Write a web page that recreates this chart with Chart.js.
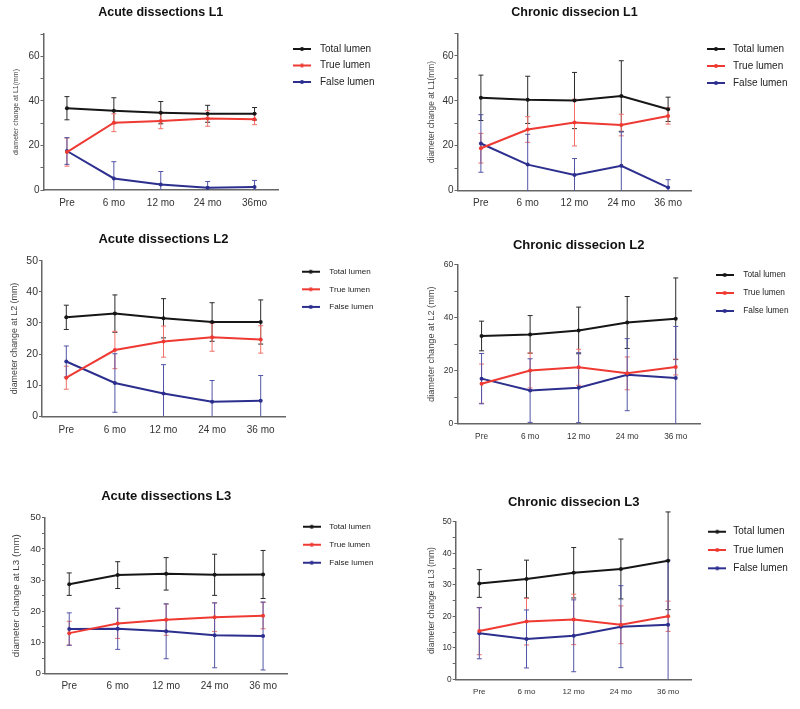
<!DOCTYPE html>
<html><head><meta charset="utf-8">
<script src="https://cdn.jsdelivr.net/npm/chart.js@4/dist/chart.umd.min.js"></script>
<style>
html,body{margin:0;padding:0;background:#fff;}
#wrap{position:relative;width:800px;height:709px;overflow:hidden;background:#fff;}
canvas{position:absolute;}
</style></head><body><div id="wrap"></div>
<script>
// ---------- categories ----------
const catsAcuteL1 = ['Pre', '6 mo', '12 mo', '24 mo', '36mo'];
const catsDefault = ['Pre', '6 mo', '12 mo', '24 mo', '36 mo'];
const seriesNames = ['Total lumen', 'True lumen', 'False lumen'];

// ---------- Acute L1 ----------
const acuteL1Total = [36.7, 35.6, 34.7, 34.2, 34.2];
const acuteL1TotalErr = [5.2, 5.8, 5.0, 3.8, 2.8];
const acuteL1True = [17.0, 30.2, 31.0, 32.1, 31.8];
const acuteL1TrueErr = [6.3, 4.0, 3.5, 3.5, 2.5];
const acuteL1False = [17.5, 5.2, 2.5, 1.0, 1.3];
const acuteL1FalseErr = [6.0, 7.5, 5.8, 2.8, 3.0];

// ---------- Chronic L1 ----------
const chronicL1Total = [41.3, 40.4, 40.1, 42.1, 36.2];
const chronicL1TotalErr = [10.1, 10.5, 12.5, 15.7, 5.4];
const chronicL1True = [18.9, 27.2, 30.3, 29.2, 33.2];
const chronicL1TrueErr = [6.6, 5.7, 10.4, 4.8, 3.6];
const chronicL1False = [21.0, 11.6, 7.0, 11.1, 1.4];
const chronicL1FalseErr = [12.8, 13.5, 7.3, 15.0, 3.5];

// ---------- Acute L2 ----------
const acuteL2Total = [31.8, 33.0, 31.5, 30.3, 30.3];
const acuteL2TotalErr = [3.9, 6.0, 6.3, 6.2, 7.1];
const acuteL2True = [12.4, 21.3, 24.0, 25.4, 24.7];
const acuteL2TrueErr = [3.7, 6.0, 5.0, 4.5, 4.4];
const acuteL2False = [17.6, 10.7, 7.3, 4.7, 5.0];
const acuteL2FalseErr = [5.0, 9.4, 9.3, 6.8, 8.1];

// ---------- Chronic L2 ----------
const chronicL2Total = [33.1, 33.7, 35.2, 38.2, 39.6];
const chronicL2TotalErr = [5.6, 7.1, 8.8, 9.8, 15.4];
const chronicL2True = [15.1, 20.1, 21.3, 19.0, 21.4];
const chronicL2TrueErr = [7.4, 6.6, 6.8, 6.2, 3.0];
const chronicL2False = [17.0, 12.5, 13.6, 18.5, 17.2];
const chronicL2FalseErr = [9.5, 12.0, 13.2, 13.6, 19.5];

// ---------- Acute L3 ----------
const acuteL3Total = [28.7, 31.6, 32.0, 31.7, 31.8];
const acuteL3TotalErr = [3.6, 4.3, 5.2, 6.6, 7.7];
const acuteL3True = [13.0, 16.1, 17.3, 18.1, 18.6];
const acuteL3TrueErr = [3.8, 4.8, 5.0, 4.6, 4.2];
const acuteL3False = [14.3, 14.4, 13.6, 12.3, 12.1];
const acuteL3FalseErr = [5.2, 6.6, 8.8, 10.4, 10.9];

// ---------- Chronic L3 ----------
const chronicL3Total = [30.4, 31.8, 33.8, 35.0, 37.6];
const chronicL3TotalErr = [4.4, 6.0, 8.0, 9.5, 15.5];
const chronicL3True = [15.3, 18.3, 19.0, 17.3, 20.0];
const chronicL3TrueErr = [7.5, 7.4, 8.0, 6.0, 4.8];
const chronicL3False = [14.6, 12.8, 13.8, 16.7, 17.3];
const chronicL3FalseErr = [8.1, 9.2, 11.4, 13.0, 20.5];

// ---------- styles ----------
const lineColors = ['#161616', '#ee3a33', '#2c2f8e'];
const errColors = ['#2a2a2a', '#f0716a', '#5255a6'];
const axisColor = '#666666';
const textColor = '#333333';

Chart.defaults.font.family = '"Liberation Sans", Arial, Helvetica, sans-serif';

const panels = [
  {box:[0,0,400,230], title:'Acute dissections L1', yTitle:'diameter change at L1(mm)', cats:catsAcuteL1,
   data:[[acuteL1Total,acuteL1TotalErr],[acuteL1True,acuteL1TrueErr],[acuteL1False,acuteL1FalseErr]],
   yMax:70, step:10, every:20, labelMax:60, L:43.5, R:278, T:34, B:190,
   tFont:12.5, tCenter:13, yTFont:7, yTCenter:16, tickFont:10, xFont:10, xPad:7,
   legFont:10, legPad:6.5, legLine:293, legText:320, legY:49},
  {box:[400,0,400,230], title:'Chronic dissecion L1', yTitle:'diameter change at L1(mm)', cats:catsDefault,
   data:[[chronicL1Total,chronicL1TotalErr],[chronicL1True,chronicL1TrueErr],[chronicL1False,chronicL1FalseErr]],
   yMax:70, step:10, every:20, labelMax:60, L:457.5, R:691.5, T:33.3, B:190.7,
   tFont:12.5, tCenter:12.7, yTFont:8.3, yTCenter:431.7, tickFont:10, xFont:10, xPad:7,
   legFont:10, legPad:7, legLine:707, legText:733, legY:49},
  {box:[0,230,400,240], title:'Acute dissections L2', yTitle:'diameter change at L2 (mm)', cats:catsDefault,
   data:[[acuteL2Total,acuteL2TotalErr],[acuteL2True,acuteL2TrueErr],[acuteL2False,acuteL2FalseErr]],
   yMax:50, step:5, every:10, labelMax:50, L:42, R:285, T:260.7, B:416.3,
   tFont:13, tCenter:239.3, yTFont:8.9, yTCenter:15, tickFont:10.5, xFont:10, xPad:7.5,
   legFont:8.1, legPad:9.5, legLine:301.7, legText:329.3, legY:271.7},
  {box:[400,230,400,240], title:'Chronic dissecion L2', yTitle:'diameter change at L2 (mm)', cats:catsDefault,
   data:[[chronicL2Total,chronicL2TotalErr],[chronicL2True,chronicL2TrueErr],[chronicL2False,chronicL2FalseErr]],
   yMax:60, step:10, every:20, labelMax:60, L:457.3, R:700, T:264.7, B:423.7,
   tFont:13, tCenter:245, yTFont:9.2, yTCenter:431.7, tickFont:8.5, xFont:8.3, xPad:8,
   legFont:8.3, legPad:9.7, legLine:715.7, legText:743.3, legY:275},
  {box:[0,470,400,239], title:'Acute dissections L3', yTitle:'diameter change at L3 (mm)', cats:catsDefault,
   data:[[acuteL3Total,acuteL3TotalErr],[acuteL3True,acuteL3TrueErr],[acuteL3False,acuteL3FalseErr]],
   yMax:50, step:5, every:10, labelMax:50, L:45, R:287.3, T:517.7, B:673.7,
   tFont:13, tCenter:496.7, yTFont:9.8, yTCenter:16.7, tickFont:9.7, xFont:10, xPad:7,
   legFont:8.1, legPad:9.9, legLine:302.7, legText:329.3, legY:526.7},
  {box:[400,470,400,239], title:'Chronic dissecion L3', yTitle:'diameter change at L3 (mm)', cats:catsDefault,
   data:[[chronicL3Total,chronicL3TotalErr],[chronicL3True,chronicL3TrueErr],[chronicL3False,chronicL3FalseErr]],
   yMax:50, step:5, every:10, labelMax:50, L:455.7, R:691.7, T:521.7, B:679.3,
   tFont:13, tCenter:502.3, yTFont:8.5, yTCenter:431.7, tickFont:8.3, xFont:8, xPad:7.5,
   legFont:10, legPad:8.3, legLine:708.3, legText:733.3, legY:531.7}
];

function legendIcon(color){
  const c = document.createElement('canvas');
  c.width = 18; c.height = 6;
  const x = c.getContext('2d');
  x.strokeStyle = color; x.lineWidth = 2;
  x.beginPath(); x.moveTo(0,3); x.lineTo(18,3); x.stroke();
  x.fillStyle = color; x.beginPath(); x.arc(9,3,2,0,Math.PI*2); x.fill();
  return c;
}

const errorBarPlugin = {
  id:'errorBars',
  beforeDatasetsDraw(chart){
    const ctx = chart.ctx;
    const ys = chart.scales.y;
    chart.data.datasets.forEach((ds, i) => {
      const meta = chart.getDatasetMeta(i);
      if (!meta.visible || !ds.errorBars) return;
      ctx.save();
      ctx.strokeStyle = ds.errorColor;
      ctx.lineWidth = 1;
      meta.data.forEach((pt, j) => {
        const v = ds.data[j], e = ds.errorBars[j];
        const yTop = ys.getPixelForValue(v + e);
        const lowV = v - e;
        const clipped = lowV < ys.min;
        const yBot = ys.getPixelForValue(Math.max(lowV, ys.min));
        const x = pt.x;
        ctx.beginPath();
        ctx.moveTo(x, yTop); ctx.lineTo(x, yBot);
        ctx.moveTo(x - 2.5, yTop); ctx.lineTo(x + 2.5, yTop);
        if (!clipped) { ctx.moveTo(x - 2.5, yBot); ctx.lineTo(x + 2.5, yBot); }
        ctx.stroke();
      });
      ctx.restore();
    });
  }
};

function makeLayoutPlugin(g){
  return {
    id:'panelLayout',
    afterInit(chart){
      const lg = chart.legend;
      const fit = lg.fit;
      lg.fit = function(){ fit.call(this); this.width = g.legendW; };
    },
    afterLayout(chart){
      const lg = chart.legend;
      lg.left = g.legLeft; lg.right = g.legLeft + lg.width;
      lg.top = g.legTop; lg.bottom = g.legTop + 120;
    }
  };
}

const wrap = document.getElementById('wrap');
panels.forEach((p) => {
  const [bx, by, bw, bh] = p.box;
  const cv = document.createElement('canvas');
  cv.width = bw; cv.height = bh;
  cv.style.left = bx + 'px'; cv.style.top = by + 'px';
  cv.style.width = bw + 'px'; cv.style.height = bh + 'px';
  wrap.appendChild(cv);

  const tLine = p.tFont * 1.2;
  const tPadTop = (p.tCenter - by) - tLine / 2;
  const tPadBot = (p.T - by) - tPadTop - tLine;
  const yTLine = p.yTFont * 1.2;
  const yTPad = (p.yTCenter - bx) - yTLine / 2;
  const pw = 2 * (p.legText - p.legLine - 9 - p.legFont / 2);
  const g = {
    legendW: bw - (p.R - bx),
    legLeft: (p.legLine - bx) - pw / 2 + 9 - p.legPad,
    legTop: (p.legY - by) - p.legPad - p.legFont / 2
  };

  const datasets = p.data.map((d, i) => ({
    label: seriesNames[i],
    data: d[0],
    errorBars: d[1],
    errorColor: errColors[i],
    borderColor: lineColors[i],
    backgroundColor: lineColors[i],
    pointBackgroundColor: lineColors[i],
    pointBorderColor: lineColors[i],
    pointRadius: 2,
    pointBorderWidth: 0,
    borderWidth: 2,
    tension: 0,
    fill: false,
    clip: false
  }));

  new Chart(cv, {
    type: 'line',
    data: { labels: p.cats, datasets },
    options: {
      responsive: false,
      animation: false,
      events: [],
      layout: { padding: 0, autoPadding: false },
      plugins: {
        tooltip: { enabled: false },
        title: {
          display: true, text: p.title, fullSize: false, color: '#111',
          font: { size: p.tFont, weight: 'bold' },
          padding: { top: tPadTop, bottom: tPadBot }
        },
        legend: {
          display: true, position: 'right', align: 'start',
          labels: {
            usePointStyle: true, pointStyleWidth: pw, padding: p.legPad,
            color: '#222', font: { size: p.legFont },
            generateLabels: (chart) => chart.data.datasets.map((ds, i) => ({
              text: ds.label, pointStyle: legendIcon(ds.borderColor),
              fillStyle: ds.borderColor, strokeStyle: ds.borderColor,
              lineWidth: 0, hidden: false, datasetIndex: i, fontColor: '#222'
            }))
          }
        }
      },
      scales: {
        x: {
          type: 'category', offset: true,
          grid: { display: true, drawOnChartArea: false, drawTicks: false },
          border: { display: true, color: axisColor, width: 1.5 },
          ticks: { color: textColor, font: { size: p.xFont }, padding: p.xPad, maxRotation: 0, autoSkip: false },
          afterFit: (s) => { s.height = (by + bh) - p.B; }
        },
        y: {
          type: 'linear', min: 0, max: p.yMax,
          ticks: {
            stepSize: p.step, color: textColor, font: { size: p.tickFont }, padding: 1,
            callback: (v) => (v % p.every === 0 && v <= p.labelMax) ? String(v) : ''
          },
          grid: { display: true, drawOnChartArea: false, drawTicks: true, tickLength: 3, color: axisColor, lineWidth: 1 },
          border: { display: true, color: axisColor, width: 1.5 },
          title: {
            display: true, text: p.yTitle, color: '#444',
            font: { size: p.yTFont }, padding: { top: yTPad, bottom: 0 }
          },
          afterFit: (s) => { s.width = p.L - bx; }
        }
      }
    },
    plugins: [errorBarPlugin, makeLayoutPlugin(g)]
  });
});
</script>
</body></html>
